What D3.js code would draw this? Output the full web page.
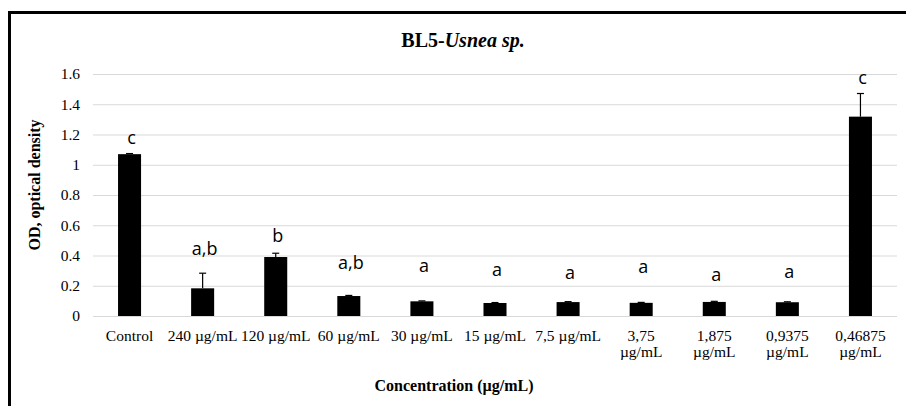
<!DOCTYPE html>
<html>
<head>
<meta charset="utf-8">
<script src="https://cdn.jsdelivr.net/npm/d3@7"></script>
<style>
  body { margin: 0; background: #fff; }
  svg { display: block; }
</style>
</head>
<body>
<div id="chart"></div>
<script>
// data
const categories = [
  ["Control"], ["240 µg/mL"], ["120 µg/mL"], ["60 µg/mL"], ["30 µg/mL"],
  ["15 µg/mL"], ["7,5 µg/mL"], ["3,75", "µg/mL"], ["1,875", "µg/mL"],
  ["0,9375", "µg/mL"], ["0,46875", "µg/mL"]
];
const odValues = [1.07, 0.183, 0.39, 0.132, 0.097, 0.086, 0.092, 0.087, 0.093, 0.091, 1.318];
const odErrors = [0.004, 0.1, 0.025, 0.004, 0.003, 0.003, 0.003, 0.003, 0.004, 0.003, 0.153];
const letters = ["c", "a,b", "b", "a,b", "a", "a", "a", "a", "a", "a", "c"];
const letterLevels = [1.17, 0.436, 0.52, 0.344, 0.326, 0.30, 0.28, 0.315, 0.266, 0.282, 1.567];
const yTicks = [0, 0.2, 0.4, 0.6, 0.8, 1, 1.2, 1.4, 1.6];

const W = 906, H = 406;
const plot = { left: 93, right: 897, top: 74, bottom: 316 };
const serif = "'Liberation Serif', 'Times New Roman', serif";

const svg = d3.select("#chart").append("svg")
  .attr("width", W).attr("height", H);

// chart frame
svg.append("rect")
  .attr("x", 9.5).attr("y", 12.5)
  .attr("width", 1200).attr("height", 1200)
  .attr("fill", "none").attr("stroke", "#000").attr("stroke-width", 3);

const x = d3.scaleBand()
  .domain(d3.range(categories.length))
  .range([plot.left, plot.right])
  .paddingInner(0.685).paddingOuter(0.3425);

const y = d3.scaleLinear().domain([0, 1.6]).range([plot.bottom, plot.top]);

// gridlines + y labels
const yAxis = svg.append("g")
  .attr("transform", `translate(${plot.left},0)`)
  .call(d3.axisLeft(y).tickValues(yTicks)
    .tickSize(-(plot.right - plot.left)).tickPadding(13)
    .tickFormat(d => String(+d.toFixed(1))));
yAxis.select(".domain").remove();
yAxis.selectAll(".tick line").attr("stroke", "#d9d9d9").attr("stroke-width", 1);
yAxis.selectAll(".tick text")
  .attr("font-family", serif)
  .attr("font-size", 15.5).attr("fill", "#000");

// bars
svg.append("g").selectAll("rect")
  .data(odValues)
  .join("rect")
  .attr("x", (d, i) => x(i))
  .attr("y", d => y(d))
  .attr("width", x.bandwidth())
  .attr("height", d => y(0) - y(d))
  .attr("fill", "#000");

// error bars
const err = svg.append("g").attr("stroke", "#000").attr("stroke-width", 1.2);
odValues.forEach((v, i) => {
  const cx = x(i) + x.bandwidth() / 2;
  err.append("line")
    .attr("x1", cx).attr("x2", cx)
    .attr("y1", y(v)).attr("y2", y(v + odErrors[i]));
  err.append("line")
    .attr("x1", cx - 3.5).attr("x2", cx + 3.5)
    .attr("y1", y(v + odErrors[i])).attr("y2", y(v + odErrors[i]));
});

// significance letters
svg.append("g").selectAll("text")
  .data(letters)
  .join("text")
  .attr("x", (d, i) => x(i) + x.bandwidth() / 2 + 2)
  .attr("y", (d, i) => y(letterLevels[i]) + 5)
  .attr("text-anchor", "middle")
  .attr("font-family", "'Open Sans', sans-serif")
  .attr("font-size", 18)
  .text(d => d);

// x labels
const xl = svg.append("g")
  .attr("font-family", serif)
  .attr("font-size", 15.5).attr("text-anchor", "middle");
categories.forEach((lines, i) => {
  const t = xl.append("text")
    .attr("x", x(i) + x.bandwidth() / 2)
    .attr("y", 340.5);
  lines.forEach((ln, k) => {
    t.append("tspan")
      .attr("x", x(i) + x.bandwidth() / 2)
      .attr("dy", k === 0 ? 0 : 16)
      .text(ln);
  });
});

// titles
const title = svg.append("text")
  .attr("x", 463).attr("y", 46.5)
  .attr("text-anchor", "middle")
  .attr("font-family", serif)
  .attr("font-size", 20).attr("font-weight", "bold");
title.append("tspan").text("BL5-");
title.append("tspan").attr("font-style", "italic").text("Usnea sp.");

svg.append("text")
  .attr("transform", "translate(40,185) rotate(-90)")
  .attr("text-anchor", "middle")
  .attr("font-family", serif)
  .attr("font-size", 16).attr("font-weight", "bold")
  .text("OD, optical density");

svg.append("text")
  .attr("x", 454).attr("y", 390.5)
  .attr("text-anchor", "middle")
  .attr("font-family", serif)
  .attr("font-size", 16).attr("font-weight", "bold")
  .text("Concentration (µg/mL)");
</script>
</body>
</html>
